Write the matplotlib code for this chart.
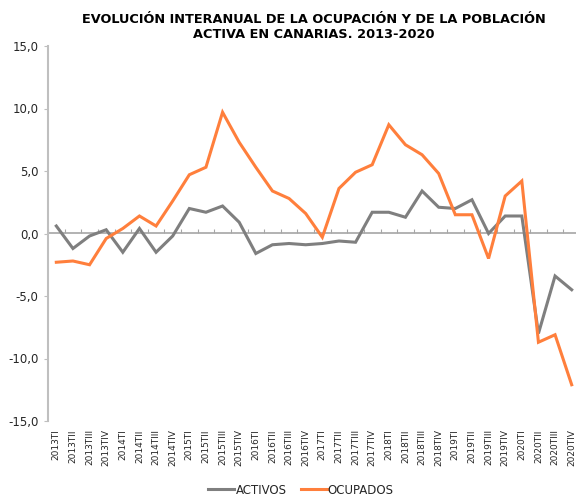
import numpy as np
import matplotlib.pyplot as plt
from matplotlib.ticker import FuncFormatter

# Quarters 2013TI .. 2020TIV
years = [str(y) for y in range(2013, 2021)]
quarters = ['TI', 'TII', 'TIII', 'TIV']
labels = [y + q for y in years for q in quarters]

# interannual variation (%)
activos = [0.6, -1.2, -0.2, 0.3, -1.5, 0.4, -1.5, -0.2,
           2.0, 1.7, 2.2, 0.9, -1.6, -0.9, -0.8, -0.9,
           -0.8, -0.6, -0.7, 1.7, 1.7, 1.3, 3.4, 2.1,
           2.0, 2.7, 0.0, 1.4, 1.4, -8.0, -3.4, -4.5]
ocupados = [-2.3, -2.2, -2.5, -0.4, 0.4, 1.4, 0.6, 2.6,
            4.7, 5.3, 9.7, 7.3, 5.3, 3.4, 2.8, 1.6,
            -0.3, 3.6, 4.9, 5.5, 8.7, 7.1, 6.3, 4.8,
            1.5, 1.5, -2.0, 3.0, 4.2, -8.7, -8.1, -12.1]

grey = '#7f7f7f'
orange = '#ff7f3c'
axis_col = '#bfbfbf'
zero_col = '#a6a6a6'
txt = '#262626'

fig = plt.figure(figsize=(5.76, 4.95), dpi=100)
ax = fig.add_axes([48/576, 1 - 421/495, 532/576, (421 - 46)/495])

x = np.arange(len(labels))
ax.plot(x, activos, color=grey, lw=2.2, label='ACTIVOS', solid_joinstyle='miter')
ax.plot(x, ocupados, color=orange, lw=2.2, label='OCUPADOS', solid_joinstyle='miter')

ax.set_xlim(-0.5, len(labels) - 0.5)
ax.set_ylim(-15, 15)
ax.set_yticks(np.arange(-15, 16, 5))
ax.yaxis.set_major_formatter(FuncFormatter(lambda v, p: f'{v:.1f}'.replace('.', ',')))
ax.tick_params(axis='y', length=3, width=0.8, color=axis_col, labelsize=8.5,
               labelcolor=txt, pad=4)

ax.set_xticks(x)
ax.set_xticklabels(labels, rotation=90, fontsize=6.5, color=txt)
ax.tick_params(axis='x', length=0, pad=6)

for s in ['top', 'right', 'bottom']:
    ax.spines[s].set_visible(False)
ax.spines['left'].set_color(axis_col)
ax.spines['left'].set_linewidth(1.5)

# zero line with category ticks
sec = ax.secondary_xaxis(0.5)
sec.set_xticks(np.arange(-0.5, len(labels), 1.0))
sec.set_xticklabels([])
sec.tick_params(length=3, width=0.8, color=zero_col, direction='out')
for sp in sec.spines.values():
    sp.set_color(zero_col)
    sp.set_linewidth(1.2)
ax.set_zorder(2)
ax.patch.set_visible(False)

fig.text(314/576, 1 - 27/495,
         'EVOLUCIÓN INTERANUAL DE LA OCUPACIÓN Y DE LA POBLACIÓN\nACTIVA EN CANARIAS. 2013-2020',
         ha='center', va='center', fontsize=9.3, fontweight='bold', color='black',
         linespacing=1.15)

fig.legend(loc='center', bbox_to_anchor=(301/576, 1 - 490/495), ncol=2, frameon=False,
           fontsize=8.5, handlelength=2.2, handletextpad=0.1, columnspacing=1.2,
           labelcolor=txt)

fig.savefig('out.png', dpi=100)
